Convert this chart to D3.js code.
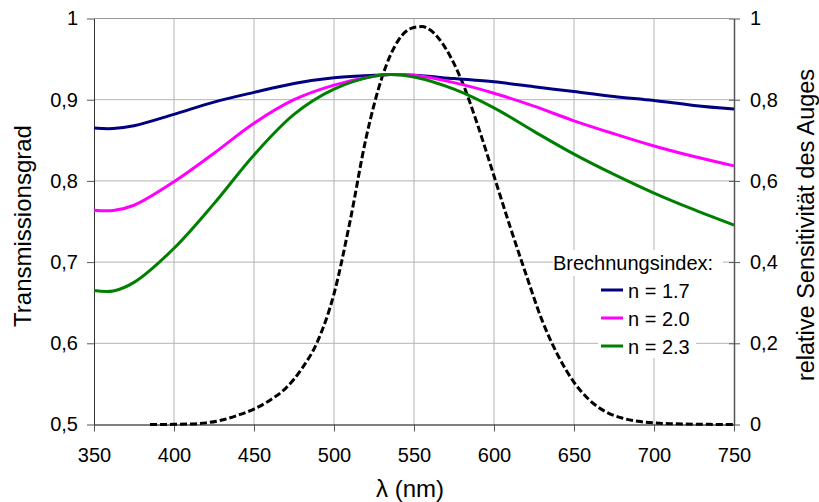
<!DOCTYPE html>
<html>
<head>
<meta charset="utf-8">
<script src="https://cdn.jsdelivr.net/npm/d3@7"></script>
<style>
  html, body { margin: 0; padding: 0; background: #fff; overflow: hidden; }
  svg { display: block; }
  text { font-family: "Liberation Sans", Arial, sans-serif; fill: #000; }
</style>
</head>
<body>
<div id="chart"></div>
<script>
// wavelengths for the transmission curves (nm)
const lambda = [350, 362, 375, 400, 425, 450, 475, 500, 525, 535, 550, 575, 600, 625, 650, 675, 700, 725, 750];
const t17 = [0.865, 0.8645, 0.868, 0.882, 0.897, 0.909, 0.920, 0.927, 0.930, 0.931, 0.930, 0.926, 0.922, 0.916, 0.910, 0.904, 0.899, 0.893, 0.8885];
const t20 = [0.764, 0.7635, 0.770, 0.799, 0.834, 0.871, 0.900, 0.918, 0.929, 0.931, 0.930, 0.921, 0.908, 0.892, 0.874, 0.858, 0.843, 0.830, 0.8185];
const t23 = [0.665, 0.6645, 0.675, 0.717, 0.772, 0.832, 0.882, 0.913, 0.929, 0.931, 0.928, 0.913, 0.890, 0.861, 0.833, 0.808, 0.785, 0.7645, 0.7455];

// eye sensitivity (right axis)
const eyeLambda = [385, 390, 400, 410, 420, 430, 440, 450, 460, 470, 480, 490, 500, 510, 520, 530, 540, 550, 555, 560, 570, 580, 590, 600, 610, 620, 630, 640, 650, 660, 670, 680, 690, 700, 710, 720, 730, 740, 750];
const eyeValue = [0, 0.0001, 0.0004, 0.0012, 0.004, 0.011, 0.023, 0.038, 0.06, 0.09, 0.138, 0.207, 0.322, 0.5, 0.705, 0.855, 0.945, 0.978, 0.98, 0.972, 0.925, 0.845, 0.735, 0.612, 0.488, 0.37, 0.257, 0.17, 0.104, 0.059, 0.031, 0.016, 0.008, 0.004, 0.002, 0.001, 0.0005, 0.0002, 0.0001];

const seriesNames = ["n = 1.7", "n = 2.0", "n = 2.3"];
const seriesColors = ["#000080", "#ff00ff", "#008000"];
const xTicks = [350, 400, 450, 500, 550, 600, 650, 700, 750];
const yLeftTicks = [0.5, 0.6, 0.7, 0.8, 0.9, 1];
const yRightTicks = [0, 0.2, 0.4, 0.6, 0.8, 1];

const width = 819, height = 502;
const margin = { top: 18.5, right: 85, bottom: 77.5, left: 94 };
const innerWidth = width - margin.left - margin.right;
const innerHeight = height - margin.top - margin.bottom;

const svg = d3.select("#chart").append("svg")
    .attr("width", width)
    .attr("height", height);

const g = svg.append("g")
    .attr("transform", `translate(${margin.left},${margin.top})`);

const x = d3.scaleLinear().domain([350, 750]).range([0, innerWidth]);
const yL = d3.scaleLinear().domain([0.5, 1]).range([innerHeight, 0]);
const yR = d3.scaleLinear().domain([0, 1]).range([innerHeight, 0]);

const fmt = d => d === 1 ? "1" : (d === 0 ? "0" : d3.format(".1f")(d).replace(".", ","));
const font = "'Liberation Sans', Arial, sans-serif";

// grid
g.append("g").selectAll("line")
    .data(xTicks.slice(1, -1))
    .join("line")
    .attr("x1", d => x(d)).attr("x2", d => x(d))
    .attr("y1", 0).attr("y2", innerHeight)
    .attr("stroke", "#b3b3b3").attr("stroke-width", 1);

g.append("g").selectAll("line")
    .data(yLeftTicks.slice(1))
    .join("line")
    .attr("x1", 0).attr("x2", innerWidth)
    .attr("y1", d => yL(d)).attr("y2", d => yL(d))
    .attr("stroke", "#b3b3b3").attr("stroke-width", 1);

// legend backgrounds (cover the grid)
g.append("rect")
    .attr("x", 553 - margin.left).attr("y", 250 - margin.top)
    .attr("width", 170).attr("height", 26)
    .attr("fill", "#fff");
g.append("rect")
    .attr("x", 598 - margin.left).attr("y", 276 - margin.top)
    .attr("width", 98).attr("height", 82)
    .attr("fill", "#fff");

// axes
g.append("g")
    .attr("transform", `translate(0,${innerHeight})`)
    .call(d3.axisBottom(x).tickValues(xTicks).tickSize(7).tickSizeOuter(0).tickFormat(d3.format("d")))
    .call(a => a.select(".domain").attr("stroke", "#000"))
    .call(a => a.selectAll(".tick line").attr("stroke", "#555"))
    .call(a => a.selectAll("text").attr("font-size", 20).attr("y", 23)
        .style("font-family", font));

g.append("g")
    .call(d3.axisLeft(yL).tickValues(yLeftTicks).tickSize(7).tickSizeOuter(0).tickFormat(fmt))
    .call(a => a.select(".domain").attr("stroke", "#333"))
    .call(a => a.selectAll(".tick line").attr("stroke", "#555"))
    .call(a => a.selectAll("text").attr("font-size", 20).attr("x", -16)
        .style("font-family", font));

g.append("g")
    .attr("transform", `translate(${innerWidth},0)`)
    .call(d3.axisRight(yR).tickValues(yRightTicks).tickSize(6).tickSizeOuter(0).tickFormat(fmt))
    .call(a => a.select(".domain").attr("stroke", "#555").attr("stroke-width", 1.5))
    .call(a => a.selectAll(".tick line").attr("stroke", "#555").attr("x1", -5))
    .call(a => a.selectAll("text").attr("font-size", 20).attr("x", 16)
        .style("font-family", font));

// top border
g.append("line")
    .attr("x1", 0).attr("x2", innerWidth).attr("y1", 0).attr("y2", 0)
    .attr("stroke", "#999");

// eye sensitivity dashed curve
const eyeData = eyeLambda.map((l, i) => ({ l, v: eyeValue[i] }));
g.append("path")
    .datum(eyeData)
    .attr("fill", "none")
    .attr("stroke", "#000")
    .attr("stroke-width", 3)
    .attr("stroke-dasharray", "7,3")
    .attr("d", d3.line().x(d => x(d.l)).y(d => yR(Math.max(0, d.v))).curve(d3.curveMonotoneX));

// transmission curves
const series = [t17, t20, t23];
const line = d3.line().x(d => x(d.l)).y(d => yL(d.v)).curve(d3.curveCatmullRom.alpha(0.5));
series.forEach((vals, i) => {
    g.append("path")
        .datum(lambda.map((l, j) => ({ l, v: vals[j] })))
        .attr("fill", "none")
        .attr("stroke", seriesColors[i])
        .attr("stroke-width", 3)
        .attr("d", line);
});

// legend
svg.append("text")
    .attr("x", 553).attr("y", 263)
    .attr("dominant-baseline", "central")
    .attr("font-size", 20)
    .text("Brechnungsindex:");

seriesNames.forEach((name, i) => {
    const yy = 290 + i * 28;
    svg.append("line")
        .attr("x1", 601).attr("x2", 623)
        .attr("y1", yy).attr("y2", yy)
        .attr("stroke", seriesColors[i]).attr("stroke-width", 3);
    svg.append("text")
        .attr("x", 628).attr("y", yy + 1)
        .attr("dominant-baseline", "central")
        .attr("font-size", 20)
        .text(name);
});

// axis titles
svg.append("text")
    .attr("transform", `translate(30.5,226) rotate(-90)`)
    .attr("text-anchor", "middle")
    .attr("font-size", 24)
    .text("Transmissionsgrad");

svg.append("text")
    .attr("transform", `translate(814,225) rotate(-90)`)
    .attr("text-anchor", "middle")
    .attr("font-size", 23.5)
    .text("relative Sensitivität des Auges");

svg.append("text")
    .attr("x", 410)
    .attr("y", 497)
    .attr("text-anchor", "middle")
    .attr("font-size", 24)
    .text("λ (nm)");
</script>
</body>
</html>
